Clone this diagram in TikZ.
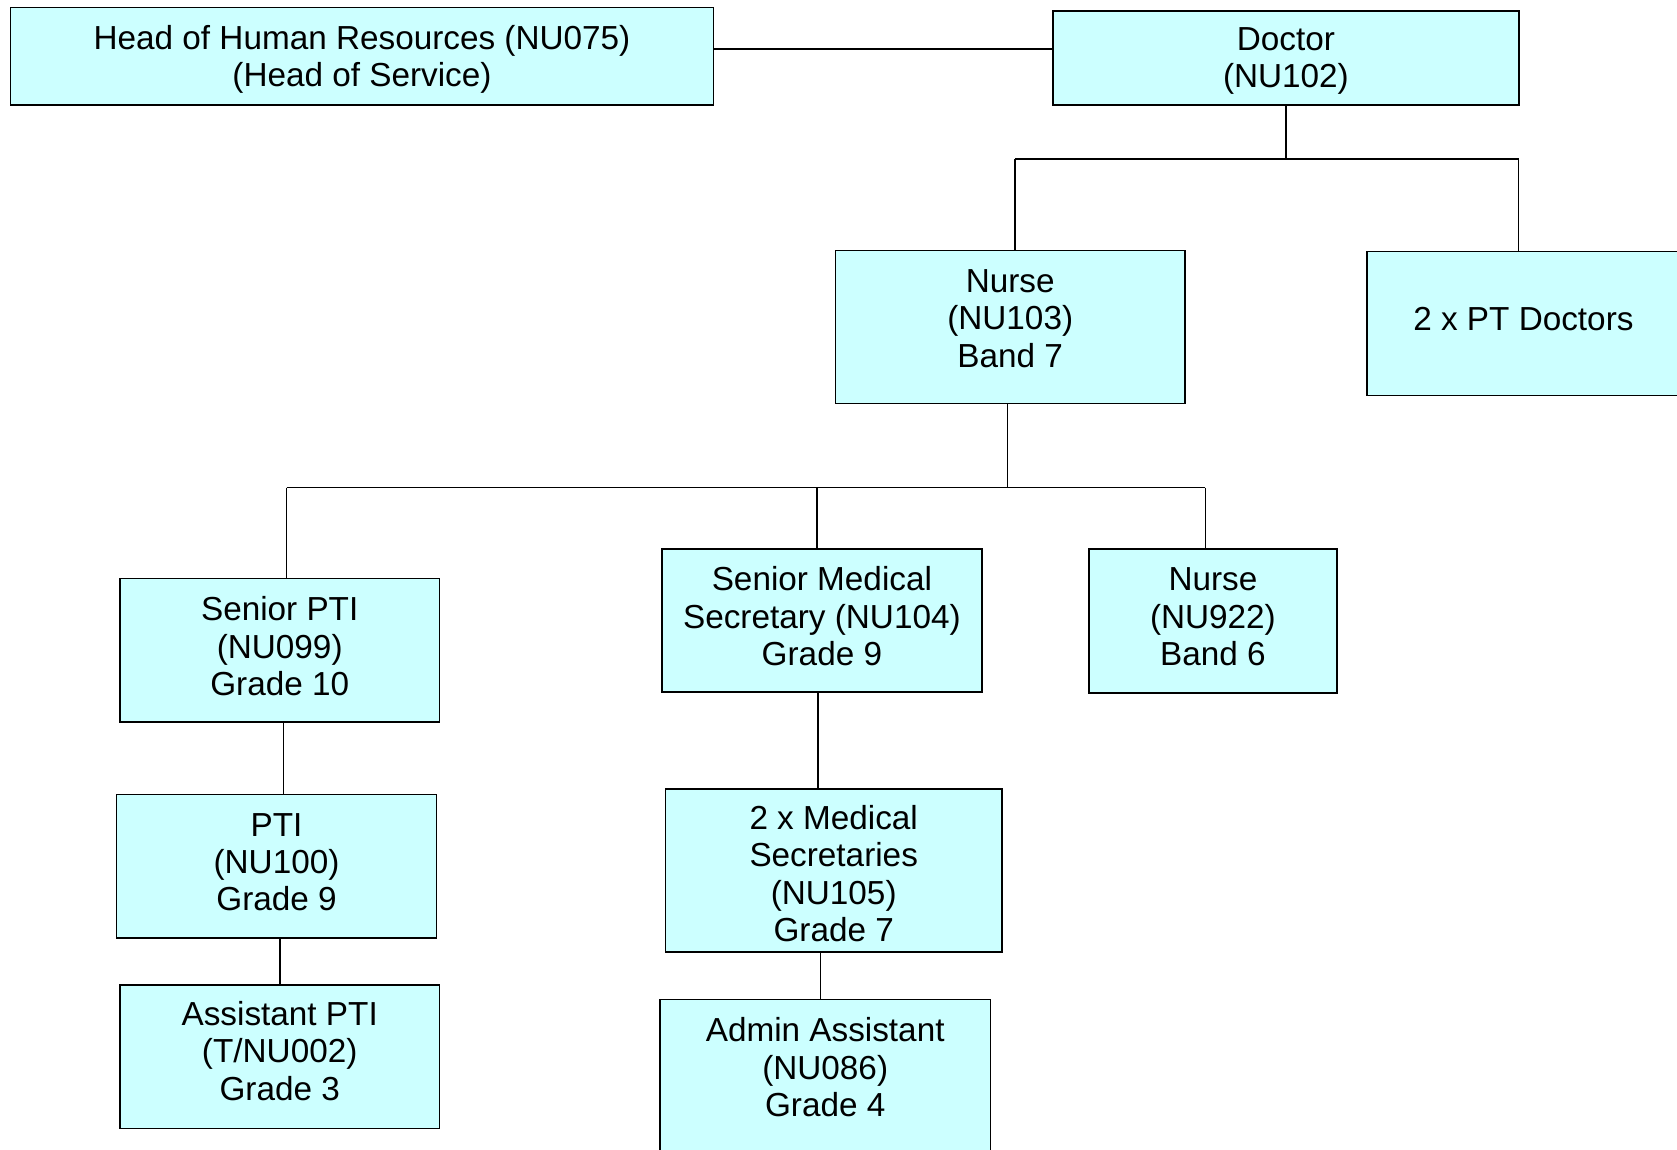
\documentclass[tikz,border=0pt]{standalone}
\usepackage{fontspec}
\setmainfont{Liberation Sans}
\usepackage{tikz}
\definecolor{boxcyan}{HTML}{CCFFFF}
\tikzset{
   postbox/.style={
     draw=black, fill=boxcyan, line width=1.5pt, align=center,
     font=\fontsize{33.3}{37.4}\selectfont, inner sep=10pt
   },
   narrowpost/.style={
      postbox, minimum width=319.8pt, minimum height=143.3pt, text depth=8.6pt
   },
   link/.style={line width=1.5pt, black}
}
\begin{document}
\begin{tikzpicture}[x=1pt,y=-1pt]
            \clip (0,0) rectangle (1677,1149);
            \fill[white] (0,0) rectangle (1677,1149);

            % top row
            \node[postbox, minimum width=702.7pt, minimum height=97.3pt, text depth=0pt](hr) at (362,56.2) {Head of Human Resources (NU075)\\(Head of Service)};
            \node[postbox, minimum width=465.7pt, minimum height=94.1pt, text depth=0pt](doctor) at (1285.9,57.8) {Doctor\\(NU102)};

            % second row
            \node[postbox, minimum width=349.7pt, minimum height=152.9pt, text depth=17pt](nurse) at (1010.2,326.8) {Nurse\\(NU103)\\Band 7};
            \node[postbox, minimum width=313.2pt, minimum height=144.4pt, text depth=8.6pt](ptdoc) at (1523.4,323.5) {2 x PT Doctors};

            % third row
            \node[narrowpost](spti) at (279.7,650.3) {Senior PTI\\(NU099)\\Grade 10};
            \node[narrowpost](sms) at (821.9,620.4) {Senior Medical\\Secretary (NU104)\\Grade 9};
            \node[narrowpost, minimum width=248.1pt, minimum height=144.3pt](nurseb) at (1212.9,620.9) {Nurse\\(NU922)\\Band 6};

            % lower rows
            \node[narrowpost](pti) at (276.5,866.3) {PTI\\(NU100)\\Grade 9};
            \node[narrowpost, text depth=12pt](apti) at (279.7,1056.7) {Assistant PTI\\(T/NU002)\\Grade 3};
            \node[postbox, minimum width=336.9pt, minimum height=162.6pt, text height=142.5pt](medsec) at (833.7,870.6) {2 x Medical\\Secretaries\\(NU105)\\Grade 7};
            \node[postbox, minimum width=330.5pt, inner ysep=18pt, anchor=north](admin) at (825.2,998.9) {Admin Assistant\\(NU086)\\Grade 4\\\strut};

            \coordinate (topbus) at (0,159);
            \coordinate (lowbus) at (0,487.7);

            \draw[link] ([yshift=7pt]hr.east) -- ([yshift=7pt]hr.east -| doctor.west);
            \draw[link] (doctor.south) -- (doctor.south |- topbus);
            \draw[link] ([xshift=4.8pt]nurse.north |- topbus) -- ([xshift=-4.7pt]ptdoc.north |- topbus);
            \draw[link] ([xshift=4.8pt]nurse.north |- topbus) -- ([xshift=4.8pt]nurse.north);
            \draw[link] ([xshift=-4.7pt]ptdoc.north |- topbus) -- ([xshift=-4.7pt]ptdoc.north);

            \draw[link] ([xshift=-2.7pt]nurse.south) -- ([xshift=-2.7pt]nurse.south |- lowbus);
            \draw[link] ([xshift=7pt]spti.north |- lowbus) -- ([xshift=-7.6pt]nurseb.north |- lowbus);
            \draw[link] ([xshift=7pt]spti.north |- lowbus) -- ([xshift=7pt]spti.north);
            \draw[link] ([xshift=-4.8pt]sms.north |- lowbus) -- ([xshift=-4.8pt]sms.north);
            \draw[link] ([xshift=-7.6pt]nurseb.north |- lowbus) -- ([xshift=-7.6pt]nurseb.north);

            \draw[link] ([xshift=3.7pt]spti.south) -- ([xshift=3.7pt]spti.south |- pti.north);
            \draw[link] ([xshift=3.7pt]pti.south) -- ([xshift=3.7pt]pti.south |- apti.north);
            \draw[link] ([xshift=-3.7pt]sms.south) -- ([xshift=-3.7pt]sms.south |- medsec.north);
            \draw[link] ([xshift=-13.4pt]medsec.south) -- ([xshift=-13.4pt]medsec.south |- admin.north);
         \end{tikzpicture}
\end{document}
